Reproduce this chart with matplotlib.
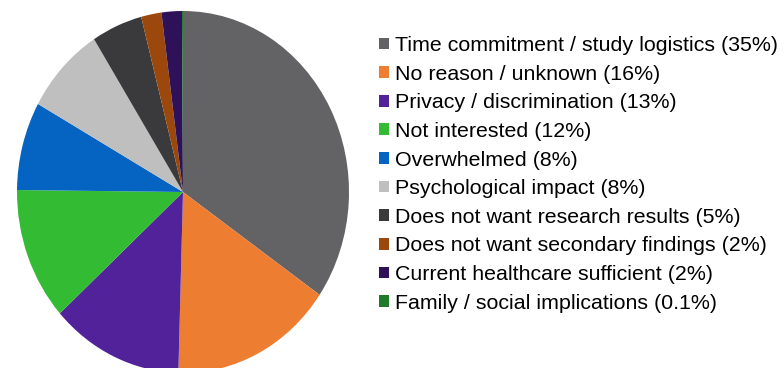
import matplotlib.pyplot as plt
from matplotlib.patches import Patch

plt.rcParams['font.family'] = ['Liberation Sans', 'DejaVu Sans']

reasons = [
    'Time commitment / study logistics',
    'No reason / unknown',
    'Privacy / discrimination',
    'Not interested',
    'Overwhelmed',
    'Psychological impact',
    'Does not want research results',
    'Does not want secondary findings',
    'Current healthcare sufficient',
    'Family / social implications',
]
shares = [35, 16, 13, 12, 8, 8, 5, 2, 2, 0.1]
share_labels = ['35%', '16%', '13%', '12%', '8%', '8%', '5%', '2%', '2%', '0.1%']
colors = ['#636366', '#ED7D31', '#52229A', '#33BC33', '#0563C1',
          '#BFBFBF', '#3A3A3C', '#9C480C', '#2E1159', '#1F7A2A']

fig = plt.figure(figsize=(7.84, 3.68), dpi=100)

# pie axes: slightly taller than wide, runs off the bottom edge
ax = fig.add_axes([17 / 784, -5 / 368, 332 / 784, 362 / 368])
ax.pie(shares, colors=colors, startangle=90, counterclock=False,
       radius=1, wedgeprops=dict(linewidth=0))
ax.set_aspect('auto')
ax.set_xlim(-1, 1)
ax.set_ylim(-1, 1)
ax.axis('off')

handles = [Patch(facecolor=c, edgecolor='none') for c in colors]
labels = [f'{r} ({s})' for r, s in zip(reasons, share_labels)]
fig.legend(handles, labels, loc='upper left', bbox_to_anchor=(379 / 784, 1 - 36 / 368),
           frameon=False, fontsize=15.4, handlelength=0.47, handleheight=0.47,
           handletextpad=0.28, labelspacing=0.45, borderaxespad=0, borderpad=0)

fig.savefig('out.png', dpi=100)
